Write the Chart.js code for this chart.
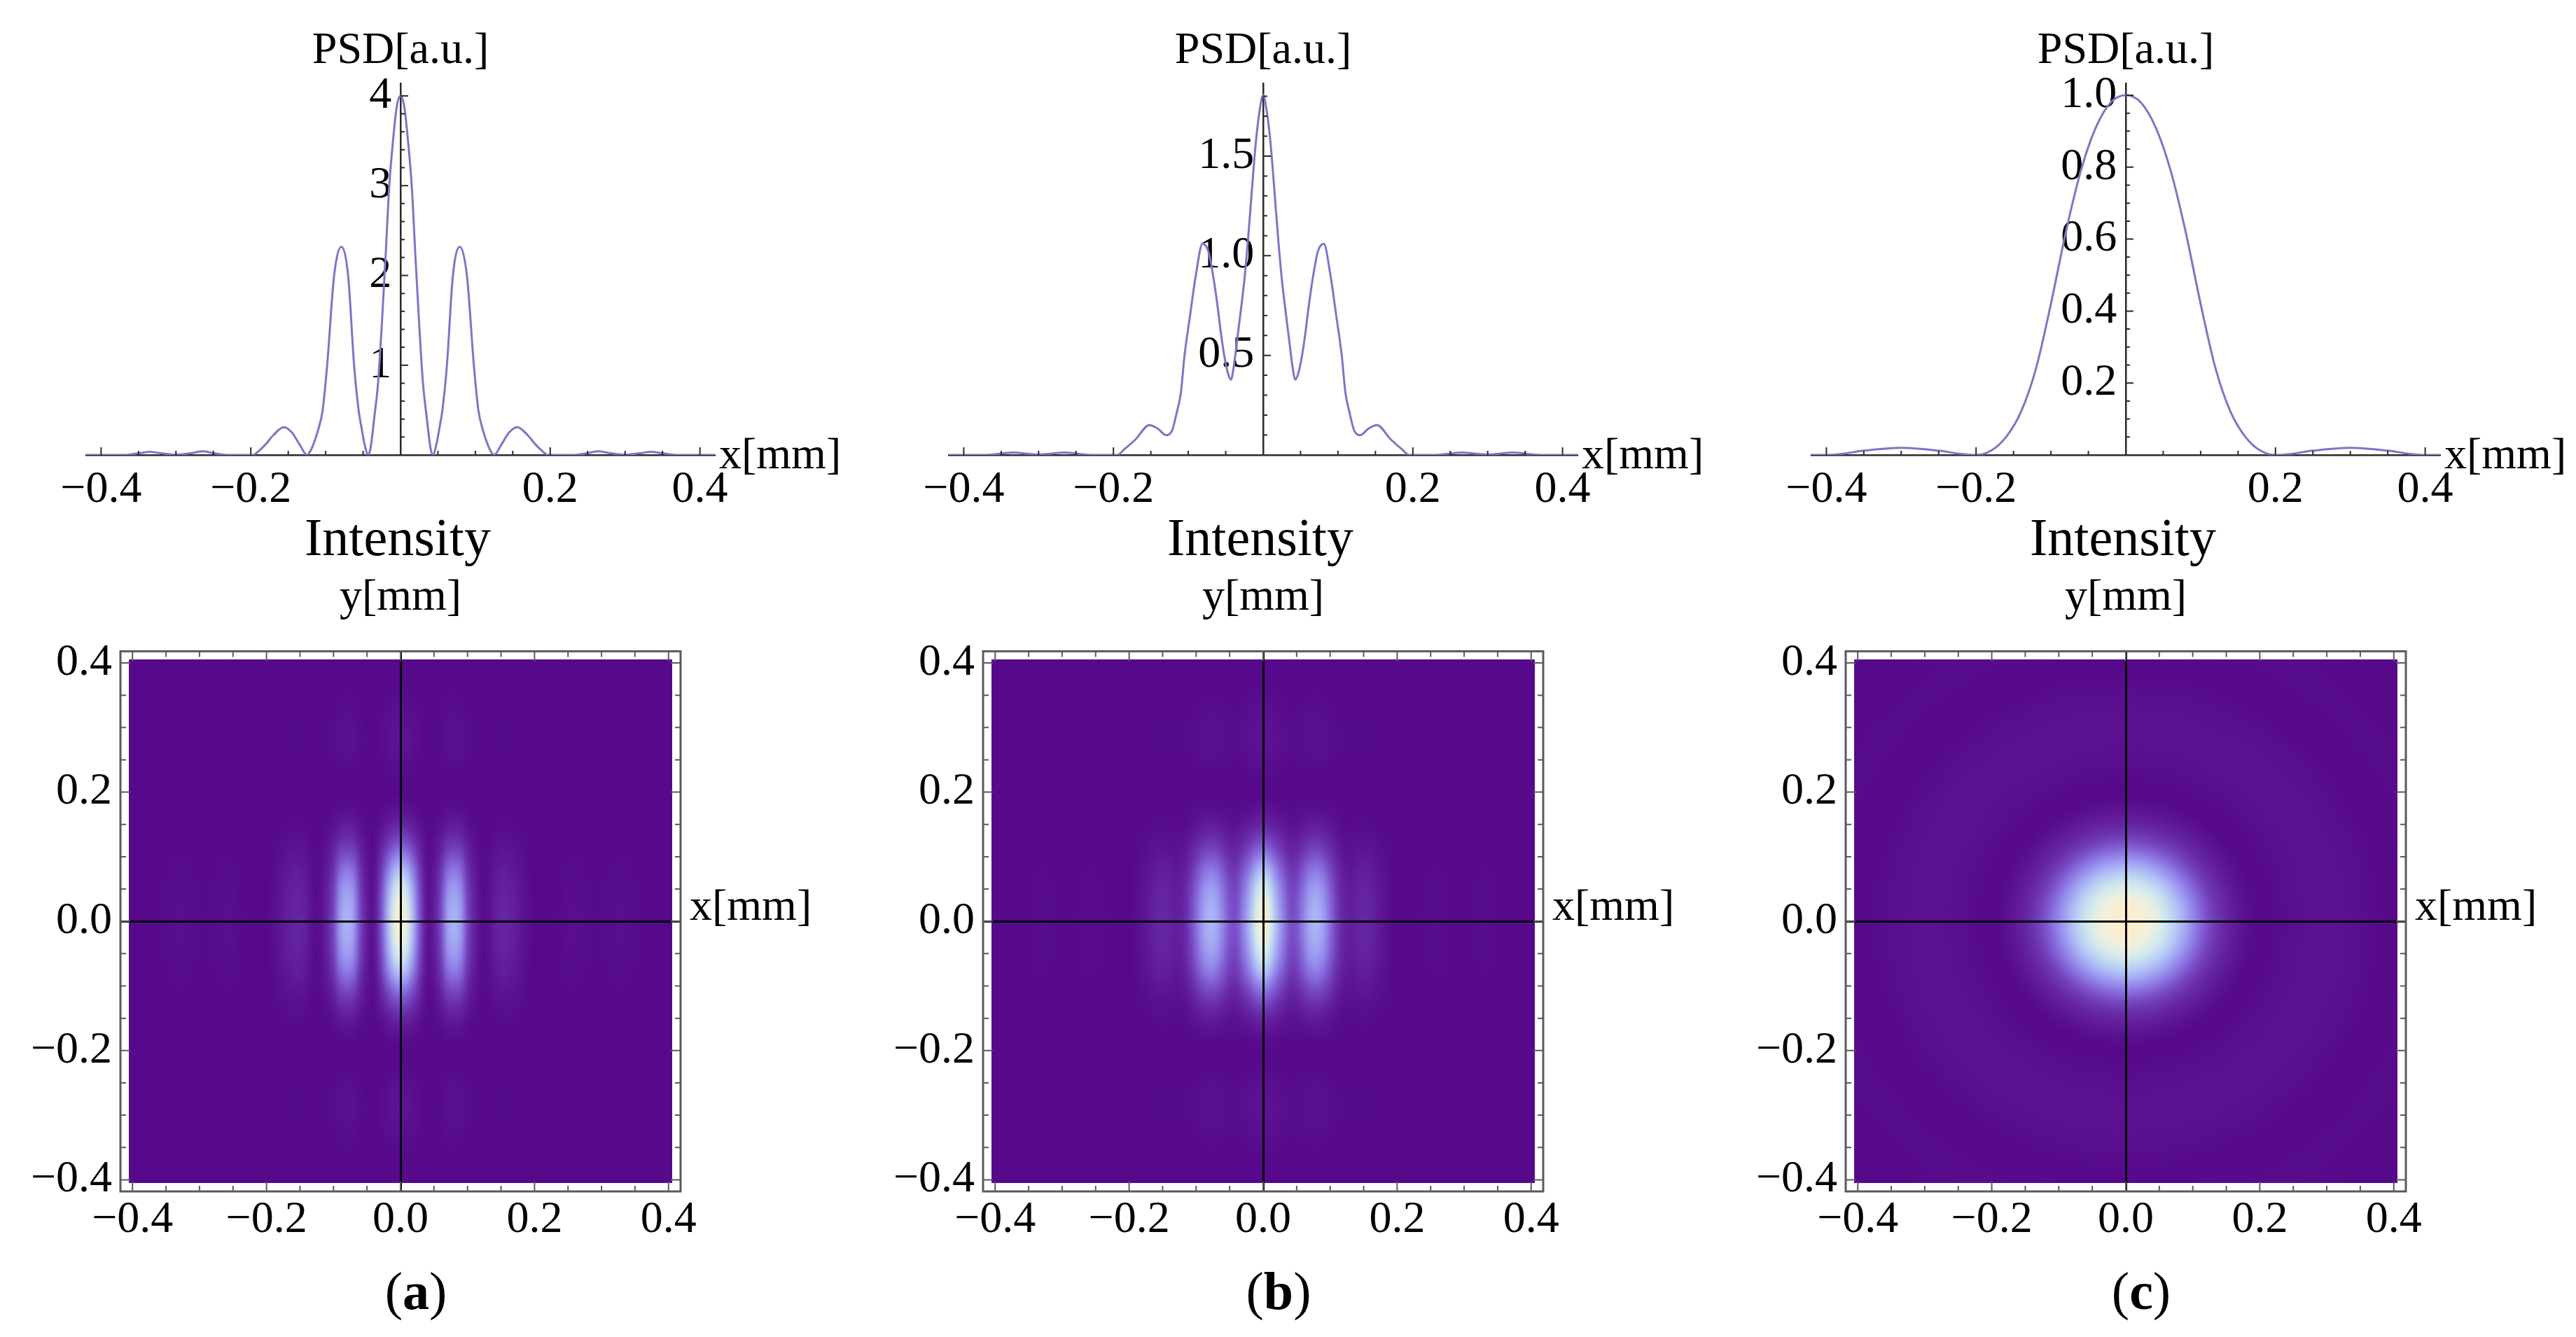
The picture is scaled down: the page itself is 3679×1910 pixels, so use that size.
<!DOCTYPE html>
<html>
<head>
<meta charset="utf-8">
<title>PSD and intensity</title>
<script src="https://cdn.jsdelivr.net/npm/chart.js@4.4.1/dist/chart.umd.min.js"></script>
<style>
  html, body { margin: 0; padding: 0; background: #fff; }
  body { position: relative; width: 3679px; height: 1910px; overflow: hidden;
         font-family: "Liberation Serif", "Times New Roman", serif; color: #000; }
  canvas { position: absolute; }
  .lbl { position: absolute; white-space: nowrap; line-height: 1; font-size: 64px; }
</style>
</head>
<body>
<script>
// ---- PSD curves (top row), x in mm, PSD in a.u. ----
const psdXa = [-0.42,-0.37,-0.35,-0.335,-0.32,-0.30,-0.28,-0.264,-0.25,-0.23,
  -0.197,-0.19,-0.18,-0.17,-0.156,-0.145,-0.135,-0.1248,
  -0.12,-0.115,-0.11,-0.104,-0.098,-0.0887,-0.0793,
  -0.07,-0.062,-0.056,-0.052,-0.048,-0.0433,
  -0.04,-0.035,-0.03,-0.025,-0.02,-0.015,-0.01,-0.005,0,
  0.005,0.01,0.015,0.02,0.025,0.03,0.035,0.04,
  0.0433,0.048,0.052,0.056,0.062,0.07,
  0.0793,0.0887,0.098,0.104,0.11,0.115,0.12,
  0.1248,0.135,0.145,0.156,0.17,0.18,0.19,0.197,
  0.23,0.25,0.264,0.28,0.30,0.32,0.335,0.35,0.37,0.42];
const psdYa = [0,0,0.02,0.035,0.02,0.003,0.02,0.04,0.02,0,
  0,0.04,0.12,0.22,0.31,0.25,0.12,0,
  0.05,0.15,0.28,0.5,1.0,2.0,2.32,
  2.0,1.0,0.5,0.3,0.12,0,
  0.08,0.42,0.8,1.45,2.2,3.0,3.5,3.88,4.0,
  3.88,3.5,3.0,2.2,1.45,0.8,0.42,0.08,
  0,0.12,0.3,0.5,1.0,2.0,
  2.32,2.0,1.0,0.5,0.28,0.15,0.05,
  0,0.12,0.25,0.31,0.22,0.12,0.04,0,
  0,0.02,0.04,0.02,0.003,0.02,0.035,0.02,0,0];

const psdXb = [-0.42,-0.37,-0.335,-0.30,-0.264,-0.23,-0.195,-0.185,-0.17,-0.152,
  -0.14,-0.13,-0.122,-0.115,-0.11,-0.105,-0.098,-0.09,-0.081,-0.073,
  -0.066,-0.061,-0.056,-0.052,-0.047,-0.043,-0.039,-0.035,-0.03,-0.025,
  -0.02,-0.015,-0.01,-0.005,0,
  0.005,0.01,0.015,0.02,0.025,0.03,0.035,0.039,0.043,0.047,
  0.052,0.056,0.061,0.066,0.073,0.081,0.09,0.098,0.105,0.11,
  0.115,0.122,0.13,0.14,0.152,0.17,0.185,0.195,0.23,0.264,
  0.30,0.335,0.37,0.42];
const psdYb = [0,0,0.012,0.002,0.012,0,0,0.03,0.08,0.15,
  0.13,0.10,0.12,0.22,0.31,0.5,0.69,0.9,1.06,1.02,
  0.88,0.75,0.6,0.5,0.41,0.378,0.45,0.57,0.72,0.88,
  1.09,1.33,1.56,1.72,1.806,
  1.72,1.56,1.33,1.09,0.88,0.72,0.57,0.45,0.378,0.41,
  0.5,0.6,0.75,0.88,1.02,1.06,0.9,0.69,0.5,0.31,
  0.22,0.12,0.10,0.13,0.15,0.08,0.03,0,0,0.012,
  0.002,0.012,0,0];

const psdXc = [-0.42,-0.40,-0.38,-0.35,-0.30,-0.25,-0.22,-0.20,-0.18,-0.16,
  -0.14,-0.12,-0.10,-0.08,-0.06,-0.04,-0.02,0,
  0.02,0.04,0.06,0.08,0.10,0.12,0.14,0.16,0.18,0.20,
  0.22,0.25,0.30,0.35,0.38,0.40,0.42];
const psdYc = [0,0,0.003,0.012,0.02,0.012,0.003,0,0.012,0.05,
  0.12,0.24,0.42,0.62,0.79,0.91,0.98,1.0,
  0.98,0.91,0.79,0.62,0.42,0.24,0.12,0.05,0.012,0,
  0.003,0.012,0.02,0.012,0.003,0,0];

// axis tops of the PSD plots and tick labels
const psdYMax = [4.14, 1.865, 1.033];
const psdXTicks = [-0.4, -0.2, 0.2, 0.4];
const psdYTicksA = [1, 2, 3, 4];
const psdYTicksB = [0.5, 1.0, 1.5];
const psdYTicksC = [0.2, 0.4, 0.6, 0.8, 1.0];

// ---- Intensity maps (bottom row), sampled every 0.01 mm ----
const heatGrid = [-0.40,-0.39,-0.38,-0.37,-0.36,-0.35,-0.34,-0.33,-0.32,-0.31,
  -0.30,-0.29,-0.28,-0.27,-0.26,-0.25,-0.24,-0.23,-0.22,-0.21,
  -0.20,-0.19,-0.18,-0.17,-0.16,-0.15,-0.14,-0.13,-0.12,-0.11,
  -0.10,-0.09,-0.08,-0.07,-0.06,-0.05,-0.04,-0.03,-0.02,-0.01,0,
  0.01,0.02,0.03,0.04,0.05,0.06,0.07,0.08,0.09,0.10,
  0.11,0.12,0.13,0.14,0.15,0.16,0.17,0.18,0.19,0.20,
  0.21,0.22,0.23,0.24,0.25,0.26,0.27,0.28,0.29,0.30,
  0.31,0.32,0.33,0.34,0.35,0.36,0.37,0.38,0.39,0.40];
// intensity along x through y = 0 (normalised)
const heatXa = [0,0,0,0,0.002,0.005,0.009,0.01,0.008,0.005,
  0.002,0.002,0.005,0.009,0.01,0.008,0.004,0.002,0.001,0,
  0,0.01,0.03,0.055,0.072,0.075,0.05,0.01,0.013,0.07,
  0.2,0.49,0.58,0.5,0.2,0.05,0.02,0.2,0.55,0.875,1.0,
  0.875,0.55,0.2,0.02,0.05,0.2,0.5,0.58,0.49,0.2,
  0.07,0.013,0.01,0.05,0.075,0.072,0.055,0.03,0.01,0,
  0,0.001,0.002,0.004,0.008,0.01,0.009,0.005,0.002,0.002,
  0.005,0.008,0.01,0.009,0.005,0.002,0,0,0,0];
const heatXb = [0,0,0,0,0.001,0.003,0.006,0.007,0.005,0.003,
  0.001,0.001,0.003,0.006,0.007,0.006,0.004,0.002,0.001,0,
  0,0.008,0.025,0.045,0.075,0.083,0.07,0.055,0.075,0.17,
  0.33,0.50,0.585,0.55,0.40,0.25,0.23,0.40,0.60,0.864,1.0,
  0.864,0.60,0.40,0.23,0.25,0.40,0.55,0.585,0.50,0.33,
  0.17,0.075,0.055,0.07,0.083,0.075,0.045,0.025,0.008,0,
  0,0.001,0.002,0.004,0.006,0.007,0.006,0.003,0.001,0.001,
  0.003,0.005,0.007,0.006,0.003,0.001,0,0,0,0];
// envelope along y through x = 0 (normalised), shared by (a) and (b)
const heatY = [0,0,0.001,0.002,0.004,0.007,0.01,0.014,0.018,0.022,
  0.025,0.027,0.027,0.025,0.021,0.016,0.011,0.006,0.003,0.001,
  0,0.005,0.014,0.03,0.052,0.085,0.13,0.19,0.26,0.34,
  0.43,0.53,0.63,0.71,0.79,0.85,0.9,0.94,0.97,0.99,1.0,
  0.99,0.97,0.94,0.9,0.85,0.79,0.71,0.63,0.53,0.43,
  0.34,0.26,0.19,0.13,0.085,0.052,0.03,0.014,0.005,0,
  0.001,0.003,0.006,0.011,0.016,0.021,0.025,0.027,0.027,0.025,
  0.022,0.018,0.014,0.01,0.007,0.004,0.002,0.001,0,0];
// (c) is round: intensity against radius
const rGridC = [0,0.01,0.02,0.03,0.04,0.05,0.06,0.07,0.08,0.09,
  0.10,0.11,0.12,0.13,0.14,0.15,0.16,0.17,0.18,0.19,
  0.20,0.21,0.22,0.23,0.24,0.25,0.26,0.27,0.28,0.29,
  0.30,0.31,0.32,0.33,0.34,0.35,0.36,0.37,0.38,0.39,
  0.40,0.41,0.42,0.43,0.44,0.45,0.46,0.47,0.48,0.49,
  0.50,0.51,0.52,0.53,0.54,0.55,0.56,0.57];
const rProfileC = [1.0,0.995,0.98,0.955,0.91,0.86,0.79,0.71,0.62,0.52,
  0.42,0.33,0.24,0.17,0.12,0.08,0.05,0.03,0.013,0.004,
  0,0.001,0.003,0.006,0.009,0.012,0.015,0.018,0.019,0.02,
  0.02,0.019,0.018,0.016,0.013,0.011,0.008,0.005,0.003,0.001,
  0,0.001,0.002,0.003,0.004,0.005,0.005,0.005,0.004,0.003,
  0.002,0.001,0,0,0,0,0,0];
const heatTicks = [-0.4, -0.2, 0, 0.2, 0.4];

const panelTags = ['a', 'b', 'c'];

// ---- style ----
const lineColor = 'rgb(120,120,198)';
const axisColor = '#2a2a2a';
const frameColor = '#5a5a5a';
const tickFont = { family: '"Liberation Serif", "Times New Roman", serif', size: 64 };
const colStep = 1232;
const firstCx = 572;
const heatPad = 0.418;
// purple -> lavender -> pale cyan -> cream
const cmap = [
  [0.00, 86, 10, 139],
  [0.05, 97, 29, 154],
  [0.15, 111, 56, 181],
  [0.30, 132, 100, 215],
  [0.45, 152, 145, 238],
  [0.62, 176, 192, 245],
  [0.80, 206, 232, 238],
  [0.92, 240, 240, 222],
  [1.00, 255, 236, 205]
];

function steps(from, to, step) {
  const out = [];
  const n = Math.round((to - from) / step);
  for (let i = 0; i <= n; i++) out.push(+(from + i * step).toFixed(4));
  return out;
}
function isIn(v, arr) { return arr.some(a => Math.abs(a - v) < 1e-6); }
function fmt(v, digits) {
  const s = Math.abs(v).toFixed(digits);
  return (v < -1e-9 ? '\u2212' : '') + s;
}
function colorFor(v) {
  v = Math.max(0, Math.min(1, v));
  for (let k = 1; k < cmap.length; k++) {
    if (v <= cmap[k][0]) {
      const a = cmap[k - 1], b = cmap[k];
      const t = (v - a[0]) / (b[0] - a[0]);
      return [1, 2, 3].map(c => Math.round(a[c] + (b[c] - a[c]) * t));
    }
  }
  return cmap[cmap.length - 1].slice(1);
}
// colour of a radius between two read samples (for shading only)
function radialAt(grid, vals, r) {
  if (r >= grid[grid.length - 1]) return vals[vals.length - 1];
  let k = 0;
  while (grid[k + 1] < r) k++;
  const t = (r - grid[k]) / (grid[k + 1] - grid[k]);
  return vals[k] + (vals[k + 1] - vals[k]) * t;
}

function addCanvas(id, left, top, w, h) {
  const c = document.createElement('canvas');
  c.id = id; c.width = w; c.height = h;
  c.style.left = left + 'px'; c.style.top = top + 'px';
  document.body.appendChild(c);
  return c;
}
function addLabel(html, left, top, size, center) {
  const d = document.createElement('div');
  d.className = 'lbl';
  d.innerHTML = html;
  d.style.left = left + 'px';
  d.style.top = top + 'px';
  if (size) d.style.fontSize = size + 'px';
  if (center) d.style.transform = 'translateX(-50%)';
  document.body.appendChild(d);
}

// tick marks of the PSD axes (drawn inward, major longer)
function psdTickMarks(xMajor, xMinor, yMajor, yMinor) {
  return {
    id: 'psdTickMarks',
    afterDraw(chart) {
      const { ctx, scales: { x, y } } = chart;
      const x0 = x.getPixelForValue(0), y0 = y.getPixelForValue(0);
      ctx.save();
      ctx.strokeStyle = axisColor;
      ctx.lineWidth = 2;
      ctx.beginPath();
      xMinor.forEach(v => {
        const px = x.getPixelForValue(v), len = isIn(v, xMajor) ? 11 : 6;
        ctx.moveTo(px, y0); ctx.lineTo(px, y0 - len);
      });
      yMinor.forEach(v => {
        const py = y.getPixelForValue(v), len = isIn(v, yMajor) ? 11 : 6;
        ctx.moveTo(x0, py); ctx.lineTo(x0 + len, py);
      });
      ctx.stroke();
      ctx.restore();
    }
  };
}

function psdChart(canvas, xs, ys, yMax, yMajor, yMinor, yDigits) {
  const pts = xs.map((v, i) => ({ x: v, y: ys[i] }));
  return new Chart(canvas, {
    type: 'line',
    data: { datasets: [{
      data: pts, borderColor: lineColor, borderWidth: 3, pointRadius: 0,
      cubicInterpolationMode: 'monotone', fill: false
    }] },
    options: {
      responsive: false, animation: false, devicePixelRatio: 1,
      layout: { padding: { left: 51, right: 51, top: 99, bottom: 110 } },
      plugins: { legend: { display: false }, tooltip: { enabled: false } },
      scales: {
        x: {
          type: 'linear', min: -0.42, max: 0.42, position: { y: 0 },
          afterBuildTicks: s => { s.ticks = psdXTicks.map(v => ({ value: v })); },
          grid: { display: false, drawTicks: false },
          border: { display: true, color: axisColor, width: 2.5 },
          ticks: { padding: 12, color: '#000', font: tickFont, maxRotation: 0, autoSkip: false,
                   callback: v => fmt(v, 1) }
        },
        y: {
          type: 'linear', min: 0, max: yMax, position: { x: 0 },
          afterBuildTicks: s => { s.ticks = yMajor.map(v => ({ value: v })); },
          grid: { display: false, drawTicks: false },
          border: { display: true, color: axisColor, width: 2.5 },
          ticks: { padding: 12, color: '#000', font: tickFont, autoSkip: false,
                   callback: v => fmt(v, yDigits) + '\u2009' }
        }
      }
    },
    plugins: [psdTickMarks(psdXTicks, steps(-0.4, 0.4, 0.05).filter(v => v !== 0), yMajor, yMinor)]
  });
}

// colour image of the map: one pixel per sample, smoothed when scaled
function buildHeatImage(cellValue) {
  const n = heatGrid.length;
  const off = document.createElement('canvas');
  off.width = n; off.height = n;
  const octx = off.getContext('2d');
  const img = octx.createImageData(n, n);
  for (let row = 0; row < n; row++) {
    for (let col = 0; col < n; col++) {
      const c = colorFor(cellValue(col, n - 1 - row));
      const p = (row * n + col) * 4;
      img.data[p] = c[0]; img.data[p + 1] = c[1]; img.data[p + 2] = c[2]; img.data[p + 3] = 255;
    }
  }
  octx.putImageData(img, 0, 0);
  return off;
}

function heatLayer(image) {
  return {
    id: 'heatLayer',
    beforeDatasetsDraw(chart) {
      const { ctx, scales: { x, y } } = chart;
      const half = (heatGrid[1] - heatGrid[0]) / 2;
      const lo = heatGrid[0] - half, hi = heatGrid[heatGrid.length - 1] + half;
      const x0 = x.getPixelForValue(lo), x1 = x.getPixelForValue(hi);
      const y0 = y.getPixelForValue(hi), y1 = y.getPixelForValue(lo);
      ctx.save();
      ctx.imageSmoothingEnabled = true;
      ctx.imageSmoothingQuality = 'high';
      ctx.drawImage(image, x0, y0, x1 - x0, y1 - y0);
      ctx.restore();
    },
    afterDraw(chart) {
      const { ctx, chartArea: a, scales: { x, y } } = chart;
      ctx.save();
      ctx.strokeStyle = frameColor;
      ctx.lineWidth = 3;
      ctx.strokeRect(a.left, a.top, a.width, a.height);
      ctx.lineWidth = 2;
      ctx.beginPath();
      steps(-0.4, 0.4, 0.05).forEach(v => {
        const len = isIn(v, heatTicks) ? 14 : 8;
        const px = x.getPixelForValue(v), py = y.getPixelForValue(v);
        ctx.moveTo(px, a.bottom); ctx.lineTo(px, a.bottom - len);
        ctx.moveTo(px, a.top); ctx.lineTo(px, a.top + len);
        ctx.moveTo(a.left, py); ctx.lineTo(a.left + len, py);
        ctx.moveTo(a.right, py); ctx.lineTo(a.right - len, py);
      });
      ctx.stroke();
      ctx.restore();
    }
  };
}

function heatChart(canvas, image) {
  const zeroLine = c => (c.tick && Math.abs(c.tick.value) < 1e-9) ? '#000' : 'rgba(0,0,0,0)';
  return new Chart(canvas, {
    type: 'scatter',
    data: { datasets: [] },
    options: {
      responsive: false, animation: false, devicePixelRatio: 1,
      layout: { padding: { left: 0, right: 60, top: 22, bottom: 0 } },
      plugins: { legend: { display: false }, tooltip: { enabled: false } },
      scales: {
        x: {
          type: 'linear', position: 'bottom', min: -heatPad, max: heatPad,
          afterFit: s => { s.height = 98; },
          afterBuildTicks: s => { s.ticks = heatTicks.map(v => ({ value: v })); },
          grid: { z: 1, drawTicks: false, lineWidth: 3, color: zeroLine },
          border: { display: false },
          ticks: { padding: 3, color: '#000', font: tickFont, maxRotation: 0, autoSkip: false,
                   callback: v => fmt(v, 1) }
        },
        y: {
          type: 'linear', position: 'left', min: -heatPad, max: heatPad,
          afterFit: s => { s.width = 140; },
          afterBuildTicks: s => { s.ticks = heatTicks.map(v => ({ value: v })); },
          grid: { z: 1, drawTicks: false, lineWidth: 3, color: zeroLine },
          border: { display: false },
          ticks: { padding: 12, color: '#000', font: tickFont, autoSkip: false,
                   callback: v => fmt(v, 1) }
        }
      }
    },
    plugins: [heatLayer(image)]
  });
}

const psdSets = [
  [psdXa, psdYa, psdYTicksA, steps(0.2, 4.0, 0.2), 0],
  [psdXb, psdYb, psdYTicksB, steps(0.1, 1.8, 0.1), 1],
  [psdXc, psdYc, psdYTicksC, steps(0.05, 1.0, 0.05), 1]
];
const heatValues = [
  (i, j) => heatXa[i] * heatY[j],
  (i, j) => heatXb[i] * heatY[j],
  (i, j) => radialAt(rGridC, rProfileC, Math.hypot(heatGrid[i], heatGrid[j]))
];

for (let k = 0; k < 3; k++) {
  const cx = firstCx + k * colStep;
  const s = psdSets[k];
  psdChart(addCanvas('psd' + k, cx - 500, 20, 1000, 740), s[0], s[1], psdYMax[k], s[2], s[3], s[4]);
  heatChart(addCanvas('heat' + k, cx - 540, 880, 1000, 920), buildHeatImage(heatValues[k]));

  addLabel('PSD[a.u.]', cx, 37, 64, true);
  addLabel('x[mm]', cx + 455, 616, 64, false);
  addLabel('Intensity', cx - 4, 729, 76, true);
  addLabel('y[mm]', cx, 818, 64, true);
  addLabel('x[mm]', cx + 413, 1261, 64, false);
  addLabel('(<b>' + panelTags[k] + '</b>)', cx + 22, 1806, 76, true);
}
</script>
</body>
</html>
